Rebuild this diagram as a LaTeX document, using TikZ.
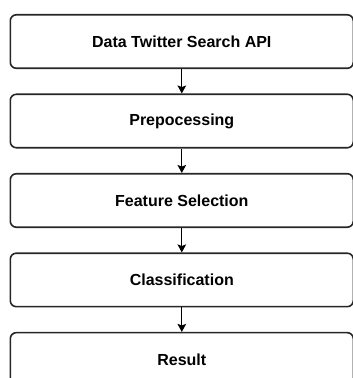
\documentclass[tikz,border=0pt]{standalone}
\usepackage{fontspec}
\setmainfont{Liberation Sans}
\usetikzlibrary{positioning,arrows.meta}

\begin{document}
\begin{tikzpicture}[node distance=18.3pt,
  every node/.style={font=\fontsize{12}{14}\selectfont\bfseries},
  flowbox/.style={draw=black!85,line width=1.2pt,rounded corners=4.5pt,align=center,
    minimum width=257.25pt,minimum height=40.1pt,inner sep=0pt,fill=white},
  flowarrow/.style={-{Stealth[length=6pt,width=6.5pt,inset=1.2pt]},line width=0.8pt,draw=black}]
\clip (0,0) rectangle (264.75pt,-283.5pt);
\node[flowbox,anchor=north west] (flow0) at (7.125pt,-10.5pt) {Data Twitter Search API};
\node[flowbox,below=of flow0] (flow1) {Prepocessing};
\draw[flowarrow] (flow0.south) -- (flow1.north);
\node[flowbox,below=of flow1] (flow2) {Feature Selection};
\draw[flowarrow] (flow1.south) -- (flow2.north);
\node[flowbox,below=of flow2] (flow3) {Classification};
\draw[flowarrow] (flow2.south) -- (flow3.north);
\node[flowbox,below=of flow3] (flow4) {Result};
\draw[flowarrow] (flow3.south) -- (flow4.north);
\end{tikzpicture}
\end{document}
